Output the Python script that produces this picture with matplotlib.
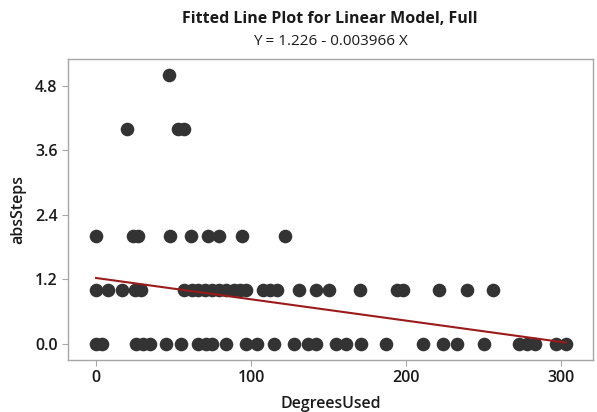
import numpy as np
import matplotlib
matplotlib.use("Agg")
import matplotlib.pyplot as plt

# data
degrees_0 = [0, 4, 26, 30, 35, 45, 55, 66, 71, 75, 84, 97, 104, 115, 128, 137, 142,
             155, 161, 171, 187, 211, 224, 233, 250, 273, 278, 283, 297, 303]
degrees_1 = [0, 8, 17, 25, 29, 57, 62, 66, 70, 75, 79, 84, 89, 93, 97, 108, 112, 117,
             131, 142, 150, 170, 194, 198, 221, 239, 256]
degrees_2 = [0, 24, 27, 48, 61, 72, 79, 94, 122]
degrees_4 = [20, 53, 57]
degrees_5 = [47]

intercept = 1.226
slope = -0.003966

x = np.array(degrees_0 + degrees_1 + degrees_2 + degrees_4 + degrees_5, dtype=float)
y = np.array([0] * len(degrees_0) + [1] * len(degrees_1) + [2] * len(degrees_2)
             + [4] * len(degrees_4) + [5] * len(degrees_5), dtype=float)

plt.rcParams["font.family"] = ["Open Sans", "DejaVu Sans"]

fig = plt.figure(figsize=(5.97, 4.12), dpi=100)
ax = fig.add_axes([0.1139, 0.1262, 0.8799, 0.7306])

ax.plot(x, y, "o", color="#333333", markersize=9.8, markeredgewidth=0, zorder=2)
xs = np.array([x.min(), x.max()])
ax.plot(xs, intercept + slope * xs, color="#9b1b1b", lw=1.5, zorder=3)

ax.set_xlim(-18.1, 320.8)
ax.set_ylim(-0.30, 5.30)
ax.set_xticks([0, 100, 200, 300])
ax.set_yticks([0.0, 1.2, 2.4, 3.6, 4.8])
ax.set_yticklabels(["0.0", "1.2", "2.4", "3.6", "4.8"])

for s in ax.spines.values():
    s.set_color("#a6a6a6")
    s.set_linewidth(1.0)
ax.tick_params(colors="#a6a6a6", labelcolor="#1a1a1a", labelsize=11.5, length=4, width=0.8)
for lab in ax.get_xticklabels() + ax.get_yticklabels():
    lab.set_fontweight("semibold")

ax.set_xlabel("DegreesUsed", fontsize=11.5, fontweight="semibold", color="#1a1a1a", labelpad=7)
ax.set_ylabel("absSteps", fontsize=11.5, fontweight="semibold", color="#1a1a1a", labelpad=6)

fig.text(0.553, 0.955, "Fitted Line Plot for Linear Model, Full", ha="center", va="center",
         fontsize=11.5, fontweight="bold", color="#1a1a1a")
fig.text(0.553, 0.900, "Y = 1.226 - 0.003966 X", ha="center", va="center",
         fontsize=11, color="#1a1a1a")

fig.savefig("out.png", dpi=100)
